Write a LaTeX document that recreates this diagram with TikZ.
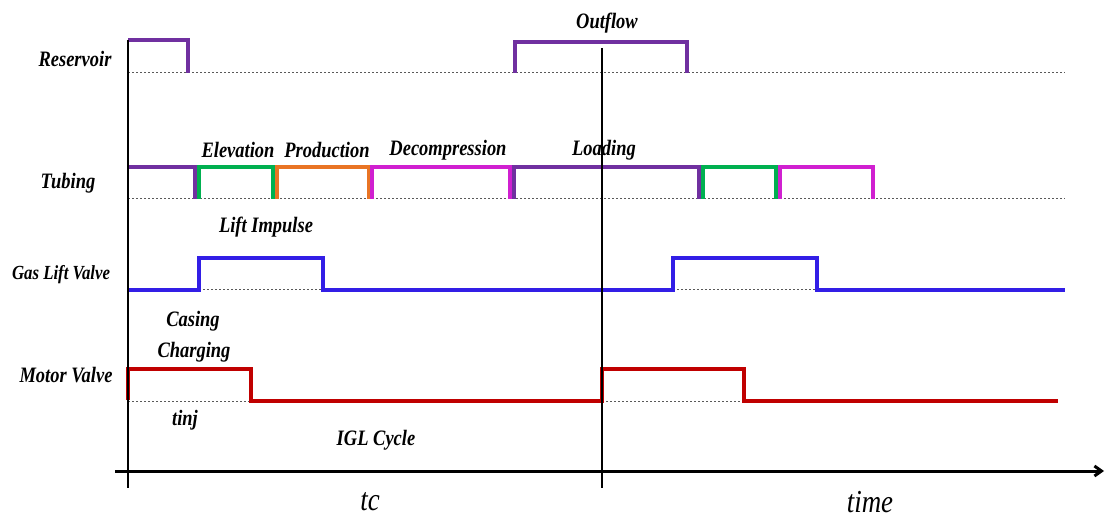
\documentclass[tikz,border=0pt]{standalone}
\usepackage{fontspec}
\usepackage{graphicx}
\setmainfont{Liberation Serif}
\usetikzlibrary{arrows.meta}
\definecolor{cpurple}{RGB}{112,48,160}
\definecolor{cgreen}{RGB}{0,176,80}
\definecolor{corange}{RGB}{233,116,36}
\definecolor{cmagenta}{RGB}{208,32,208}
\definecolor{cblue}{RGB}{50,30,230}
\definecolor{cred}{RGB}{192,0,0}
\newcommand{\sq}[1]{\scalebox{0.84}[1]{#1}}
\tikzset{
  lbl/.style={inner sep=0pt, font=\bfseries\itshape\fontsize{22}{24}\selectfont},
  smalllbl/.style={inner sep=0pt, font=\bfseries\itshape\fontsize{20}{22}\selectfont},
  axlbl/.style={inner sep=0pt, font=\itshape\fontsize{32}{34}\selectfont},
  sig/.style={line width=3.3pt, line join=miter},
  base/.style={gray!70!black, line width=1pt, dash pattern=on 2pt off 2pt},
  axis/.style={black, line width=2.2pt},
}
\begin{document}
\begin{tikzpicture}[x=1pt, y=-1pt]
\useasboundingbox (0,0) rectangle (1105,518);
% dotted baselines
\draw[base] (128,73) -- (1065,73);
\draw[base] (128,199) -- (1065,199);
\draw[base] (199,290) -- (323,290);
\draw[base] (673,290) -- (817,290);
\draw[base] (128,401) -- (251,401);
\draw[base] (602,401) -- (744,401);
% reservoir
\draw[sig, cpurple] (128,40) -- (188,40) -- (188,73);
\draw[sig, cpurple] (515,73) -- (515,42) -- (687,42) -- (687,73);
% tubing
\draw[sig, cpurple] (127,167) -- (195,167) -- (195,199);
\draw[sig, cgreen] (199,199) -- (199,167) -- (273,167) -- (273,199);
\draw[sig, corange] (277,199) -- (277,167) -- (369,167) -- (369,199);
\draw[sig, cmagenta] (372,199) -- (372,167) -- (510,167) -- (510,199);
\draw[sig, cpurple] (514,199) -- (514,167) -- (699,167) -- (699,199);
\draw[sig, cgreen] (703,199) -- (703,167) -- (776,167) -- (776,199);
\draw[sig, cmagenta] (780,199) -- (780,167) -- (873,167) -- (873,199);
% gas lift valve
\draw[sig, cblue] (128,290) -- (199,290) -- (199,258) -- (323,258) -- (323,290) -- (673,290) -- (673,258) -- (817,258) -- (817,290) -- (1065,290);
% motor valve
\draw[sig, cred] (128,400) -- (128,369) -- (251,369) -- (251,401) -- (602,401) -- (602,369) -- (744,369) -- (744,401) -- (1058,401);
% axes
\draw[axis] (128,40) -- (128,488);
\draw[black, line width=1.6pt] (602,48) -- (602,488);
\draw[black, line width=3pt, -{Straight Barb[length=7pt, width=10pt]}] (115,471) -- (1104,471);
% labels
\node[lbl] (res) at (75,59) {\sq{Reservoir}};
\node[lbl] (out) at (607,23) {\sq{Outflow}};
\node[lbl] (ele) at (238,150) {\sq{Elevation}};
\node[lbl] (pro) at (327,150) {\sq{Production}};
\node[lbl] (dec) at (448,150) {\sq{Decompression}};
\node[lbl] (loa) at (604,150) {\sq{Loading}};
\node[lbl] (tub) at (68,183) {\sq{Tubing}};
\node[lbl] (lif) at (266,227) {\sq{Lift Impulse}};
\node[smalllbl] (glv) at (61,275) {\sq{Gas Lift Valve}};
\node[lbl] (cas) at (193,321) {\sq{Casing}};
\node[lbl] (cha) at (194,352) {\sq{Charging}};
\node[lbl] (mot) at (66,375) {\sq{Motor Valve}};
\node[lbl] (tin) at (185,420) {\sq{tinj}};
\node[lbl] (igl) at (376,440) {\sq{IGL Cycle}};
\node[axlbl] (tc) at (370,502) {\sq{tc}};
\node[axlbl] (tim) at (870,502) {\sq{time}};
\end{tikzpicture}
\end{document}
